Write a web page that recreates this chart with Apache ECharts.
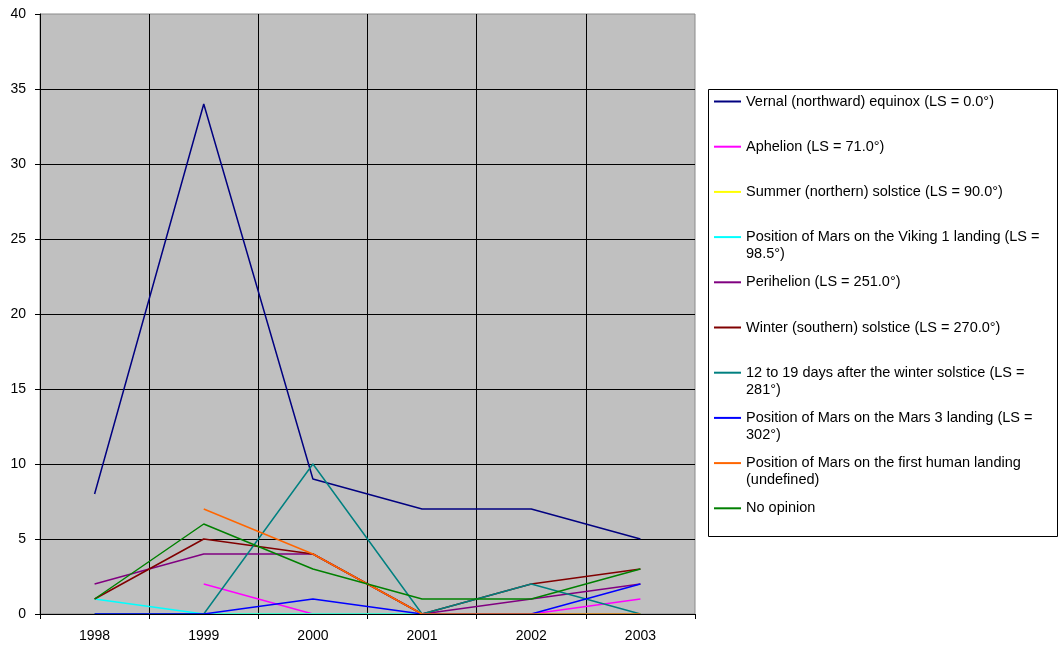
<!DOCTYPE html>
<html><head><meta charset="utf-8">
<script src="https://cdn.jsdelivr.net/npm/echarts@6/dist/echarts.min.js"></script>
<style>html,body{margin:0;padding:0;background:#fff}#c{width:1060px;height:645px}</style>
</head><body><div id="c"></div>
<script>
// ---- data ----
const years = ['1998', '1999', '2000', '2001', '2002', '2003'];
const seriesNames = [
  'Vernal (northward) equinox (LS = 0.0°)',
  'Aphelion (LS = 71.0°)',
  'Summer (northern) solstice (LS = 90.0°)',
  'Position of Mars on the Viking 1 landing (LS =\n98.5°)',
  'Perihelion (LS = 251.0°)',
  'Winter (southern) solstice (LS = 270.0°)',
  '12 to 19 days after the winter solstice (LS =\n281°)',
  'Position of Mars on the Mars 3 landing (LS =\n302°)',
  'Position of Mars on the first human landing\n(undefined)',
  'No opinion'
];
const vernal       = [8, 34, 9, 7, 7, 5];
const aphelion     = [null, 2, 0, 0, 0, 1];
const summer       = [0, 0, 0, 0, 0, 0];
const viking       = [1, 0, 0, 0, 0, 0];
const perihelion   = [2, 4, 4, 0, 1, 2];
const winter       = [1, 5, 4, 0, 2, 3];
const days12to19   = [0, 0, 10, 0, 2, 0];
const mars3        = [0, 0, 1, 0, 0, 2];
const humanLanding = [null, 7, 4, 0, 0, 0];
const noOpinion    = [1, 6, 3, 1, 1, 3];
const yMin = 0, yMax = 40, yStep = 5;

const allValues = [vernal, aphelion, summer, viking, perihelion, winter, days12to19, mars3, humanLanding, noOpinion];
const colors = ['#000080', '#FF00FF', '#FFFF00', '#00FFFF', '#800080', '#800000', '#008080', '#0000FF', '#FF6600', '#008000'];

const FONT = 'Arial, "Liberation Sans", sans-serif';
const chart = echarts.init(document.getElementById('c'), null, {renderer: 'canvas'});

chart.setOption({
  animation: false,
  backgroundColor: '#ffffff',
  grid: {
    left: 40, top: 14, width: 655, height: 600,
    show: true, backgroundColor: '#C0C0C0', borderColor: '#8a8a8a', borderWidth: 1
  },
  xAxis: [{
    type: 'category', data: years, boundaryGap: true,
    axisLine: {lineStyle: {color: '#000', width: 1}},
    axisTick: {show: true, inside: false, length: 5, lineStyle: {color: '#000'}},
    axisLabel: {color: '#000', fontSize: 14, fontFamily: FONT, margin: 15},
    splitLine: {show: true, showMaxLine: false, lineStyle: {color: '#000', width: 1}}
  }, {
    type: 'category', data: years, position: 'bottom', z: 5,
    axisLine: {lineStyle: {color: '#000', width: 1}},
    axisTick: {show: false}, axisLabel: {show: false}, splitLine: {show: false}
  }],
  yAxis: {
    type: 'value', min: yMin, max: yMax, interval: yStep,
    axisLine: {show: true, lineStyle: {color: '#000', width: 1}},
    axisTick: {show: true, inside: false, length: 5, lineStyle: {color: '#000'}},
    axisLabel: {color: '#000', fontSize: 14, fontFamily: FONT, margin: 14},
    splitLine: {show: true, showMaxLine: false, lineStyle: {color: '#000', width: 1}}
  },
  legend: {
    orient: 'vertical', left: 714, top: 76, padding: 0,
    itemWidth: 27, itemHeight: 2, itemGap: -5.8,
    icon: 'rect',
    selectedMode: false,
    data: seriesNames,
    formatter: function (name) {
      return ' \n' + name + (name.indexOf('\n') >= 0 ? '' : '\n ');
    },
    textStyle: {color: '#000', fontSize: 14.5, fontFamily: FONT, lineHeight: 17}
  },
  graphic: [{
    type: 'rect', z: -1, silent: true,
    shape: {x: 708.5, y: 89.5, width: 349, height: 447},
    style: {fill: 'none', stroke: '#000', lineWidth: 1}
  }],
  series: allValues.map(function (vals, i) {
    return {
      name: seriesNames[i], type: 'line', data: vals,
      xAxisIndex: 0, yAxisIndex: 0,
      symbol: 'none', showSymbol: false, connectNulls: false,
      lineStyle: {color: colors[i], width: 1.5},
      itemStyle: {color: colors[i]},
      emphasis: {disabled: true}
    };
  })
});
</script></body></html>
